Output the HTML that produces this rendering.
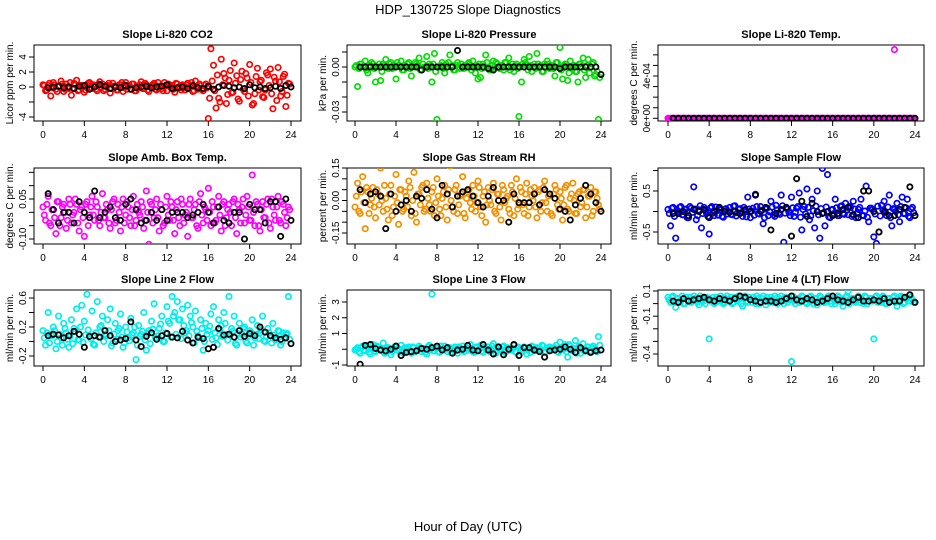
<!DOCTYPE html>
<html><head><meta charset="utf-8">
<style>
html,body{margin:0;padding:0;background:#fff;}
svg{display:block;font-family:"Liberation Sans",Arial,sans-serif;}
</style></head>
<body>
<svg id="c" width="936" height="540" viewBox="0 0 936 540">
<text x="468" y="14" font-size="13" text-anchor="middle">HDP_130725  Slope Diagnostics</text>
<text x="468" y="531" font-size="13" text-anchor="middle">Hour of Day (UTC)</text>
</svg>
<script>
// ---- data (y values; colored series every 15 min, band series offset 7.5 min, black series every 30 min) ----
const co2Vals=[0.3,-0.5,0.2,-1.2,0.6,-0.3,0.1,0.8,-0.6,0.4,-0.2,-1.1,0.5,0.9,-0.4,0.2,-0.7,0.3,0.6,-0.2,0.1,-0.5,0.7,0.4,-0.3,0.2,-0.8,0.5,0.1,-0.4,0.3,-0.6,0.6,0.2,-0.3,0.4,-0.5,0.1,0.7,-0.2,0.3,-0.6,0.2,0.5,-0.4,0.1,-0.2,0.6,-0.5,0.3,0.2,-0.7,0.4,-0.1,0.3,-0.4,0.5,0.1,-0.6,0.8,-0.3,0.2,-0.5,0.4,-4.2,5.1,2.9,-2.8,-1.5,3.7,1.8,-2.2,0.9,-0.8,3.2,1.5,-1.9,2.1,-0.6,1.2,3.0,-2.4,-0.9,2.5,0.7,-1.3,-0.4,1.6,2.4,-2.9,0.8,2.6,-1.2,1.4,-2.6,0.5];
const co2Band=[0.2,-0.4,0.5,-0.1,0.3,-0.6,0.1,0.4,-0.3,0.0,0.6,-0.2,0.3,-0.5,0.2,0.1,-0.4,0.5,-0.1,0.3,-0.3,0.4,0.0,-0.5,0.2,0.5,-0.2,0.1,-0.4,0.3,0.6,-0.1,-0.3,0.2,0.4,-0.5,0.1,0.3,-0.2,0.5,-0.4,0.0,0.3,-0.3,0.6,0.1,-0.5,0.2,0.4,-0.1,-0.3,0.5,0.0,-0.4,0.2,0.3,-0.2,0.6,-0.5,0.1,0.4,-0.3,0.2,-0.1,-1.5,0.8,-0.5,1.6,-2.0,0.3,1.2,-1.0,2.2,-0.7,0.5,-1.6,1.0,-0.3,1.8,-1.2,0.6,-2.2,1.4,-0.4,0.9,-1.4,1.9,0.2,-0.9,1.3,-1.8,0.7,-0.6,1.7,-1.1,0.4];
const co2Black=[-0.1,0.0,0.1,-0.1,0.0,-0.2,0.1,0.2,-0.3,0.0,0.3,0.1,-0.2,0.0,-0.1,0.2,-0.3,-0.1,0.0,0.1,-0.1,0.0,0.1,0.3,-0.2,-0.1,0.0,-0.2,0.2,-0.1,-0.2,0.1,-0.3,0.0,0.2,0.1,-0.1,0.0,-0.2,0.3,-0.1,0.0,-0.2,-0.1,0.1,-0.2,0.2,0.0];
const presVals=[0.000,-0.013,0.002,0.000,0.004,-0.004,0.001,0.002,-0.010,0.000,-0.009,0.002,0.005,-0.001,0.003,0.000,-0.008,0.001,0.004,-0.002,0.000,0.003,-0.006,0.000,0.002,0.006,-0.002,0.000,0.007,0.002,-0.010,0.009,-0.035,0.000,0.003,-0.004,0.000,0.008,0.001,-0.002,0.003,-0.001,0.000,0.001,0.002,0.000,0.004,-0.004,-0.008,-0.007,0.002,0.008,0.000,-0.002,0.004,0.003,0.000,0.001,-0.002,0.003,0.006,0.000,-0.003,0.002,-0.033,-0.010,0.005,0.001,0.007,-0.003,0.002,0.009,0.000,-0.003,0.002,0.004,-0.001,0.000,-0.006,0.003,0.013,-0.008,0.002,-0.009,0.004,0.000,-0.003,-0.010,0.002,0.006,-0.007,0.005,0.000,0.003,-0.005,-0.035];
const presBand=[0.001,-0.001,0.002,0.000,-0.002,0.001,0.003,-0.001,0.000,0.002,-0.003,0.001,0.000,0.002,-0.001,0.001,0.003,0.000,-0.002,0.001,0.002,-0.001,0.000,0.003,0.001,-0.002,0.002,0.000,-0.001,0.001,0.002,-0.003,0.000,0.001,-0.001,0.002,0.003,0.000,-0.002,0.001,0.000,0.002,-0.001,0.001,0.003,-0.002,0.000,0.001,0.002,-0.001,0.000,0.003,-0.002,0.001,0.000,0.002,-0.001,0.001,0.003,0.000,-0.002,0.002,0.001,-0.001,0.000,0.002,0.003,-0.002,0.001,0.000,-0.001,0.002,0.001,-0.003,0.000,0.002,0.001,-0.001,0.003,0.000,-0.002,0.001,0.002,-0.004,0.000,0.001,-0.003,0.002,0.000,-0.002,0.001,-0.004,0.002,-0.006,-0.003,-0.007];
const presBlack=[0,0,0,0,0,0,0,0,0,0,0,0,-0.002,0,0,0,0,0,0,0.011,0,0,0,0,0,-0.001,-0.002,0,0,0,0,0,0,0,0,0,0,0,0,-0.001,0,0,0,0,0,0,0,-0.005];
const tempVals=[0,0,0,0,0,0,0,0,0,0,0,0,0,0,0,0,0,0,0,0,0,0,0,0,0,0,0,0,0,0,0,0,0,0,0,0,0,0,0,0,0,0,0,0,0,0,0,0,0,0,0,0,0,0,0,0,0,0,0,0,0,0,0,0,0,0,0,0,0,0,0,0,0,0,0,0,0,0,0,0,0,0,0,0,0,0,0,0,0.00065,0,0,0,0,0,0,0];
const tempBand=[0,0,0,0,0,0,0,0,0,0,0,0,0,0,0,0,0,0,0,0,0,0,0,0,0,0,0,0,0,0,0,0,0,0,0,0,0,0,0,0,0,0,0,0,0,0,0,0,0,0,0,0,0,0,0,0,0,0,0,0,0,0,0,0,0,0,0,0,0,0,0,0,0,0,0,0,0,0,0,0,0,0,0,0,0,0,0,0,0,0,0,0,0,0,0,0];
const tempBlack=[0,0,0,0,0,0,0,0,0,0,0,0,0,0,0,0,0,0,0,0,0,0,0,0,0,0,0,0,0,0,0,0,0,0,0,0,0,0,0,0,0,0,0,0,0,0,0,0];
const ambVals=[0.02,-0.03,0.06,-0.05,0.01,-0.08,0.04,-0.02,0.03,-0.06,0.05,-0.04,0.00,0.03,-0.07,0.02,-0.09,0.04,-0.01,0.06,-0.03,0.02,-0.05,0.07,-0.02,0.01,-0.06,0.04,-0.04,0.03,-0.07,0.05,-0.01,0.02,-0.05,0.06,-0.03,0.00,0.04,-0.06,0.08,-0.12,0.03,-0.02,0.05,-0.07,0.01,-0.04,0.06,-0.03,0.02,-0.08,0.04,-0.05,0.03,-0.01,-0.09,0.05,-0.02,0.03,-0.06,0.07,-0.04,0.01,0.09,-0.05,0.02,-0.03,0.06,-0.07,0.04,-0.02,0.03,-0.05,0.05,-0.08,0.01,0.02,-0.04,0.06,-0.03,0.14,-0.05,0.03,-0.07,0.04,-0.02,0.05,-0.06,0.02,-0.03,0.06,-0.04,0.03,-0.05,0.02];
const ambBand=[-0.01,0.03,-0.04,0.01,-0.02,0.04,-0.05,0.02,0.00,-0.03,0.03,-0.01,0.05,-0.04,0.01,-0.02,0.03,-0.05,0.02,-0.01,0.04,-0.03,0.00,-0.02,0.03,-0.04,0.01,0.05,-0.03,0.00,0.02,-0.04,0.04,-0.02,0.01,-0.05,0.03,-0.01,0.02,-0.03,0.00,0.04,-0.04,0.01,-0.02,0.03,-0.05,0.02,-0.01,0.04,-0.03,0.01,-0.02,0.05,-0.04,0.00,0.03,-0.02,0.01,-0.05,0.04,-0.01,0.02,-0.03,0.00,0.04,-0.04,0.02,-0.01,0.03,-0.05,0.01,0.00,0.04,-0.02,0.03,-0.04,0.05,-0.01,0.02,-0.03,0.00,0.04,-0.05,0.01,-0.02,0.03,-0.04,0.05,-0.01,0.02,-0.03,0.04,0.00,-0.02,0.01];
const ambBlack=[0.07,0.01,-0.04,0.00,0.00,-0.04,0.04,0.00,-0.02,0.08,-0.02,0.00,0.02,-0.02,-0.03,0.03,0.05,0.01,-0.04,-0.03,0.00,-0.03,0.01,-0.03,0.00,0.00,0.00,-0.02,-0.01,0.00,0.03,0.00,-0.04,0.02,-0.03,-0.04,0.00,0.00,-0.10,0.03,0.01,0.01,-0.04,0.04,0.04,-0.09,0.05,-0.03];
const rhVals=[-0.03,0.08,-0.06,0.11,-0.13,0.04,-0.02,0.06,-0.08,0.03,0.15,-0.05,0.01,-0.09,0.07,-0.03,0.12,-0.11,0.05,-0.04,0.02,0.09,-0.07,0.13,-0.10,0.03,0.06,-0.05,0.08,-0.02,0.04,-0.07,0.10,-0.04,0.01,0.07,-0.09,0.16,-0.03,0.05,-0.06,0.02,0.11,-0.08,0.04,-0.01,0.07,-0.05,0.09,-0.03,0.02,-0.10,0.06,-0.02,0.08,-0.06,0.03,-0.09,0.05,0.01,-0.04,0.07,-0.07,0.10,-0.02,0.04,-0.06,0.08,-0.03,0.02,0.06,-0.08,0.05,-0.01,0.09,-0.05,0.03,-0.07,0.07,-0.02,0.04,-0.09,0.06,-0.04,0.01,0.08,-0.06,0.03,-0.03,0.05,-0.08,0.02,0.06,-0.05,0.04,-0.02];
const rhBand=[0.02,-0.05,0.04,-0.01,0.06,-0.06,0.01,-0.03,0.05,-0.02,0.00,0.07,-0.04,0.03,-0.07,0.02,-0.01,0.05,-0.05,0.04,-0.03,0.06,0.00,-0.06,0.03,-0.02,0.07,-0.04,0.01,-0.05,0.06,-0.01,0.02,-0.07,0.04,-0.03,0.05,0.00,-0.05,0.07,-0.02,0.03,-0.06,0.01,0.05,-0.04,0.02,-0.01,0.06,-0.07,0.04,-0.02,0.00,0.05,-0.05,0.03,-0.03,0.07,-0.01,0.02,-0.06,0.04,0.01,-0.04,0.06,-0.02,0.03,-0.07,0.05,0.00,-0.03,0.04,-0.05,0.06,-0.01,0.02,-0.06,0.03,0.05,-0.04,0.01,-0.02,0.07,-0.05,0.03,0.00,-0.06,0.04,-0.01,0.05,-0.03,0.02,-0.07,0.04,0.01,-0.04];
const rhBlack=[0.05,-0.01,0.03,0.04,0.02,-0.13,0.03,-0.05,-0.02,0.00,-0.05,0.02,0.01,0.05,-0.04,-0.08,0.07,0.03,-0.03,0.02,0.04,0.05,0.02,-0.01,-0.03,0.02,0.06,0.00,0.00,-0.10,0.03,-0.01,-0.01,-0.01,0.03,-0.02,0.05,0.03,0.01,-0.04,-0.05,-0.09,-0.02,0.01,0.07,0.03,-0.01,-0.05];
const flowVals=[0.05,-0.35,0.10,-0.65,0.00,0.12,-0.08,0.06,-0.15,0.08,0.60,-0.20,0.04,-0.40,0.10,-0.05,-0.55,0.12,-0.10,0.02,0.08,-0.12,0.05,-0.06,0.10,-0.08,0.14,-0.03,0.07,-0.12,0.02,0.35,-0.15,0.08,0.42,-0.05,0.12,-0.30,0.06,-0.10,0.25,-0.08,0.15,-0.04,0.40,-0.75,0.10,-0.02,0.35,-0.12,0.08,0.45,-0.45,0.12,0.55,-0.20,0.30,-0.40,0.50,-0.65,1.05,-0.35,0.90,-0.15,0.05,0.30,-0.10,0.12,-0.05,0.20,-0.08,0.10,0.25,-0.15,0.05,0.30,-0.10,0.62,-0.25,0.08,-0.62,-0.78,-0.50,0.15,0.25,-0.10,0.40,-0.35,0.05,0.20,-0.25,0.35,-0.05,0.30,-0.15,0.10];
const flowBand=[-0.05,0.08,-0.12,0.03,0.10,-0.08,0.05,-0.15,0.12,-0.02,0.06,-0.10,0.14,-0.05,0.02,-0.12,0.09,-0.04,0.11,-0.09,0.04,-0.14,0.07,0.00,-0.07,0.13,-0.11,0.05,-0.03,0.10,-0.13,0.06,0.01,-0.09,0.12,-0.06,0.03,-0.15,0.08,-0.01,0.11,-0.12,0.04,-0.07,0.14,-0.04,0.06,-0.10,0.09,-0.02,0.12,-0.14,0.05,-0.06,0.10,-0.11,0.02,0.13,-0.08,0.07,-0.03,0.11,-0.13,0.04,-0.05,0.09,-0.10,0.14,-0.07,0.03,0.12,-0.12,0.06,-0.04,0.10,-0.09,0.01,-0.14,0.08,0.05,-0.06,0.13,-0.11,0.04,-0.02,0.11,-0.15,0.07,0.00,-0.08,0.12,-0.05,0.09,-0.12,0.06,-0.03];
const flowBlack=[-0.05,-0.05,0.00,-0.10,0.05,0.00,0.05,-0.15,0.00,0.10,0.00,-0.02,0.00,-0.05,0.05,0.00,0.40,0.00,0.10,-0.45,-0.05,0.05,0.10,-0.60,0.80,0.25,-0.12,0.20,0.00,-0.05,0.00,-0.10,-0.05,0.05,0.10,-0.08,-0.15,0.50,0.50,0.00,-0.50,0.00,-0.10,-0.10,0.05,0.10,0.60,-0.10];
const line2Vals=[0.15,-0.05,0.40,0.10,0.20,-0.10,0.35,0.05,0.25,0.12,-0.08,0.30,0.18,0.45,0.02,0.50,0.28,0.65,0.08,0.42,-0.05,0.55,0.20,0.35,0.10,0.30,0.45,-0.02,0.25,0.15,0.38,-0.08,0.20,0.05,0.32,0.12,-0.25,0.22,0.10,0.40,-0.12,0.15,0.28,0.52,0.05,0.18,0.35,0.00,0.48,0.25,0.62,0.40,0.55,0.30,0.45,0.12,0.50,0.35,0.20,0.42,0.08,0.30,-0.12,0.25,0.15,0.38,0.48,0.05,0.30,0.22,0.40,0.10,0.62,0.18,0.35,-0.05,0.25,0.10,0.20,-0.02,0.15,0.30,0.05,0.22,0.12,0.35,0.00,0.18,0.08,0.25,0.02,0.15,-0.05,0.12,0.10,0.62];
const line2Band=[0.05,0.12,-0.02,0.08,0.15,0.00,0.10,-0.05,0.18,0.03,0.07,-0.03,0.14,0.02,0.20,-0.01,0.09,0.16,0.04,-0.04,0.12,0.06,0.22,0.00,0.08,0.15,-0.06,0.10,0.03,0.18,0.06,-0.02,0.13,0.01,0.09,0.20,-0.05,0.07,0.14,0.02,0.11,-0.03,0.17,0.05,0.08,0.24,0.00,0.12,0.28,0.06,0.35,0.10,0.30,0.04,0.22,0.15,0.08,0.26,-0.02,0.14,0.05,0.18,0.00,0.10,0.21,0.03,0.12,-0.04,0.16,0.07,0.25,0.02,0.09,0.14,-0.03,0.11,0.06,0.18,0.00,0.08,0.13,-0.05,0.10,0.04,0.16,0.01,0.07,0.12,-0.02,0.09,0.05,0.14,0.00,0.06,0.11,0.03];
const line2Black=[0.08,0.10,0.09,0.05,0.08,0.14,0.10,-0.08,0.07,0.08,0.06,0.15,0.08,0.00,0.02,0.04,0.27,0.02,-0.07,0.07,0.12,0.03,0.08,0.11,0.06,0.05,0.14,0.02,-0.02,0.06,0.04,-0.10,-0.08,0.18,0.09,0.10,0.06,0.15,0.07,0.11,0.08,0.20,0.13,0.08,0.05,0.03,0.05,-0.03];
const line3Vals=[-0.05,0.10,-0.25,0.20,-0.10,0.05,-0.30,0.30,-0.15,0.15,-0.05,0.40,-0.20,0.10,-0.35,0.05,0.20,-0.10,0.25,-0.20,0.00,0.15,-0.25,0.10,-0.05,0.20,-0.15,0.05,-0.30,0.25,3.50,-0.10,0.10,-0.20,0.00,0.20,-0.15,0.10,-0.05,0.15,-0.25,0.05,0.20,-0.10,0.00,0.30,-0.15,0.10,-0.05,0.25,-0.20,0.05,0.15,-0.10,0.35,-0.25,0.10,0.00,0.20,-0.15,0.05,-0.05,0.25,-0.20,0.10,0.00,0.15,-0.30,0.05,0.20,-0.10,0.10,-0.05,0.25,-0.20,0.05,0.15,-0.05,0.10,-0.15,0.45,0.00,0.30,-0.50,0.20,-0.10,0.55,0.10,-0.25,0.35,0.00,0.15,-0.10,0.20,-0.05,0.80];
const line3Band=[0.00,-0.15,0.10,-0.05,0.15,-0.20,0.05,-0.10,0.20,-0.05,0.00,-0.25,0.10,0.05,-0.15,0.15,-0.05,0.00,-0.20,0.10,0.05,-0.10,0.15,-0.15,0.00,0.10,-0.05,-0.20,0.15,0.00,-0.10,0.05,-0.15,0.20,-0.05,0.00,0.10,-0.20,0.05,-0.10,0.15,0.00,-0.15,0.10,-0.05,0.05,-0.20,0.15,0.00,-0.10,0.10,-0.05,-0.15,0.20,0.05,-0.10,0.00,0.15,-0.20,0.10,-0.05,0.05,-0.15,0.15,0.00,-0.10,0.10,-0.05,-0.20,0.15,0.05,-0.10,0.00,0.20,-0.15,0.10,-0.05,0.05,0.25,-0.20,0.10,0.00,-0.15,0.30,-0.05,0.05,-0.25,0.20,0.00,-0.10,0.15,-0.20,0.10,0.05,-0.15,0.25];
const line3Black=[-0.95,0.25,0.30,0.05,-0.05,-0.10,0.00,0.20,-0.40,-0.20,-0.15,-0.10,0.05,0.00,0.10,0.20,-0.05,0.10,-0.25,-0.05,0.00,0.25,-0.05,-0.10,0.30,-0.05,-0.30,0.15,-0.35,0.00,0.30,-0.40,0.10,0.10,-0.05,-0.15,-0.50,-0.10,-0.05,0.00,0.15,0.00,-0.20,0.10,-0.10,-0.20,-0.10,-0.05];
const line4Vals=[0.05,0.01,0.06,-0.03,0.04,0.02,0.00,0.05,0.03,0.01,0.06,0.02,-0.01,0.04,0.02,0.05,-0.28,0.03,0.00,0.05,0.02,0.04,0.01,0.06,0.03,0.00,0.05,0.02,0.04,-0.02,0.06,0.01,0.03,0.05,0.00,0.04,0.02,0.06,-0.01,0.03,0.05,0.01,0.04,0.02,0.06,0.00,0.03,0.05,-0.46,0.02,0.04,0.01,0.06,0.03,0.00,0.05,0.02,0.04,-0.01,0.06,0.03,0.01,0.05,0.02,0.04,0.00,0.06,0.03,-0.02,0.05,0.10,0.02,0.04,0.01,0.06,0.03,0.00,0.05,0.02,0.04,-0.28,0.06,0.03,0.01,0.05,0.00,0.04,0.02,0.06,-0.02,0.03,0.05,0.01,0.04,0.02,0.03];
const line4Band=[0.03,0.05,0.01,0.04,0.02,0.06,0.00,0.03,0.05,0.02,0.04,0.01,0.06,0.03,0.00,0.04,0.02,0.05,0.01,0.03,0.06,0.00,0.04,0.02,0.05,0.01,0.03,0.06,0.00,0.04,0.02,0.05,0.01,0.03,0.06,0.00,0.04,0.02,0.05,0.01,0.03,0.06,0.00,0.04,0.02,0.05,0.01,0.03,0.06,0.00,0.04,0.02,0.05,0.01,0.03,0.06,0.00,0.04,0.02,0.05,0.01,0.03,0.06,0.00,0.04,0.02,0.05,0.01,0.03,0.06,0.00,0.04,0.02,0.05,0.01,0.03,0.06,0.00,0.04,0.02,0.05,0.01,0.03,0.06,0.00,0.04,0.02,0.05,0.01,0.03,0.06,0.00,0.04,0.02,0.05,0.01];
const line4Black=[0.02,0.01,0.04,0.02,0.03,0.04,0.05,0.03,0.02,0.04,0.03,0.02,0.04,0.06,0.05,0.03,0.02,0.01,0.02,0.02,0.01,0.02,0.04,0.06,0.03,0.02,0.04,0.03,0.01,0.02,0.04,0.06,0.03,0.02,0.01,0.03,0.05,0.02,0.02,0.03,0.02,0.04,0.01,0.02,0.02,0.05,0.07,0.01];
const xTicks=[0,4,8,12,16,20,24];
const panelTitles=["Slope Li-820 CO2","Slope Li-820 Pressure","Slope Li-820 Temp.","Slope Amb. Box Temp.","Slope Gas Stream RH","Slope Sample Flow","Slope Line 2 Flow","Slope Line 3 Flow","Slope Line 4 (LT) Flow"];
const yTitles=["Licor ppm per min.","kPa per min.","degrees C per min.","degrees C per min.","percent per min.","ml/min per min.","ml/min per min.","ml/min per min.","ml/min per min."];
const yTickVals=[[-4,-2,0,2,4],[0.01,0,-0.01,-0.02,-0.03],[0,0.0001,0.0002,0.0003,0.0004,0.0005,0.0006],[0.15,0.10,0.05,0,-0.05,-0.10],[0.15,0.10,0.05,0,-0.05,-0.10,-0.15],[1.0,0.5,0,-0.5],[0.6,0.4,0.2,0,-0.2],[3,2,1,0,-1],[0.1,0,-0.1,-0.2,-0.3,-0.4]];
const yTickLabels=[["-4","","0","2","4"],["","0.00","","","-0.03"],["0e+00","","","","4e-04","",""],["","","0.05","","","-0.10"],["0.15","","","0.00","","","-0.15"],["","0.5","","-0.5"],["0.6","","0.2","","-0.2"],["3","2","1","","-1"],["0.1","","-0.1","","","-0.4"]];
const seriesVals=[co2Vals,presVals,tempVals,ambVals,rhVals,flowVals,line2Vals,line3Vals,line4Vals];
const seriesBand=[co2Band,presBand,tempBand,ambBand,rhBand,flowBand,line2Band,line3Band,line4Band];
const seriesBlack=[co2Black,presBlack,tempBlack,ambBlack,rhBlack,flowBlack,line2Black,line3Black,line4Black];
const colors=["#ff0000","#00dd00","#ff00ff","#ff00ff","#f39000","#0000ff","#00eeee","#00eeee","#00eeee"];

// ---- layout (pixel geometry) ----
const colBox=[[34,301,43,291],[347,611,355,601],[658,924,668,915]];
const rowBox=[[45,121],[168,244],[290,366]];
const yCal=[[4,57,-4,117],[0,67,-0.03,112],[0,118.3,0.0004,76],[0.05,199,-0.10,239],[0.15,168,-0.15,233],[0.5,191,-0.5,232],[0.6,298,-0.2,356],[3,302,-1,365],[0.1,291,-0.4,354]];
const svg=document.getElementById('c');
const NS='http://www.w3.org/2000/svg';
function mk(tag,attrs,parent){const e=document.createElementNS(NS,tag);for(const k in attrs)e.setAttribute(k,attrs[k]);(parent||svg).appendChild(e);return e;}

for(let p=0;p<9;p++){
  const [bx1,bx2,x0,x24]=colBox[p%3];
  const [by1,by2]=rowBox[Math.floor(p/3)];
  const [v1,py1,v2,py2]=yCal[p];
  const xs=h=>x0+(x24-x0)*h/24;
  const ys=v=>py1+(v-v1)*(py2-py1)/(v2-v1);
  const g=mk('g',{});
  
  
  const cp=mk('clipPath',{id:'cp'+p},g);
  mk('rect',{x:bx1-3,y:by1,width:bx2-bx1+6,height:by2-by1},cp);
  const t=mk('text',{x:(bx1+bx2)/2,y:by1-7,'font-size':11,'font-weight':'bold','text-anchor':'middle'},g);
  t.textContent=panelTitles[p];
  
  
  const yt=mk('text',{x:0,y:0,'font-size':10,'text-anchor':'middle',transform:`translate(${bx1-21},${(by1+by2)/2}) rotate(-90)`},g);
  yt.textContent=yTitles[p];
  
  
  xTicks.forEach(h=>{
    const x=xs(h);
    mk('line',{x1:x,y1:by2,x2:x,y2:by2+5,stroke:'#000','stroke-width':1},g);
    const lt=mk('text',{x:x,y:by2+17,'font-size':10,'text-anchor':'middle'},g);
    lt.textContent=h;
    
    
  });
  mk('line',{x1:xs(0),y1:by2,x2:xs(24),y2:by2,stroke:'#000'},g);
  yTickVals[p].forEach((v,i)=>{
    const y=ys(v);
    mk('line',{x1:bx1-5,y1:y,x2:bx1,y2:y,stroke:'#000'},g);
    if(yTickLabels[p][i]){
      const lt=mk('text',{x:0,y:0,'font-size':10,'text-anchor':'middle',transform:`translate(${bx1-8},${y}) rotate(-90)`},g);
      lt.textContent=yTickLabels[p][i];
      
      
    }
  });
  const box=mk('rect',{x:bx1,y:by1,width:bx2-bx1,height:by2-by1,fill:'none',stroke:'#000','stroke-width':1},g);
  
  
  const pts=mk('g',{'clip-path':`url(#cp${p})`},g);
  seriesBand[p].forEach((v,i)=>{
    const c=mk('circle',{cx:xs(0.125+i*0.25),cy:ys(v),r:2.7,fill:'none',stroke:colors[p],'stroke-width':1.7},pts);
    
    
  });
  seriesVals[p].forEach((v,i)=>{
    const c=mk('circle',{cx:xs(i*0.25),cy:ys(v),r:2.7,fill:'none',stroke:colors[p],'stroke-width':1.7},pts);
    
    
  });
  seriesBlack[p].forEach((v,i)=>{
    const c=mk('circle',{cx:xs(0.5+i*0.5),cy:ys(v),r:2.6,fill:'none',stroke:'#000','stroke-width':1.8},pts);
    
    
  });
}
</script>
</body></html>
